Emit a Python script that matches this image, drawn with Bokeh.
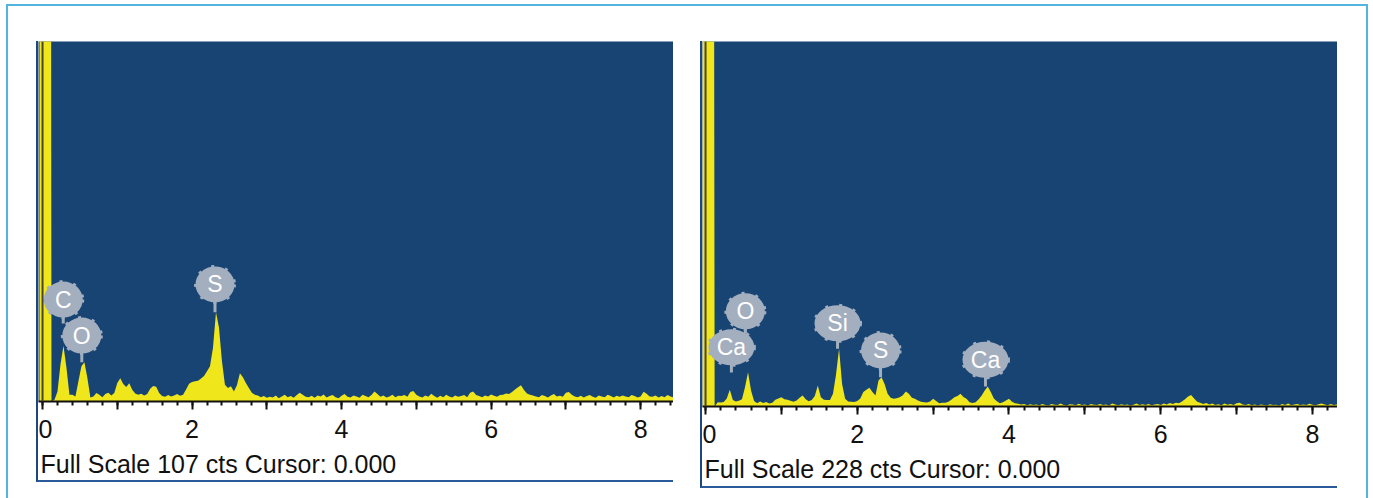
from bokeh.plotting import figure
from bokeh.layouts import row, column
from bokeh.models import FixedTicker, Title, Span, Range1d, ColumnDataSource
from bokeh.embed import file_html
from bokeh.resources import INLINE
from bokeh.core.properties import value
import numpy as np

# ---- spectra: counts per 0.04 keV channel, first channel at -0.04 keV ----
CHANNEL_WIDTH = 0.04
ENERGY_OFFSET = -0.04

left_full_scale = 107
left_counts = [
    900, 900, 900, 900, 0, 0.5, 3, 11, 16.6, 10,            # -0.04
    2, 2, 1.5, 6, 10.5, 11.7, 7, 1.2, 1.5, 2.5,             # 0.36
    2, 1.3, 2.2, 2.6, 1.8, 2.5, 5.5, 6.9, 5.2, 4.3,         # 0.76
    5.4, 3.5, 2.4, 2.0, 2.3, 1.8, 2.2, 3.8, 4.6, 4.4,       # 1.16
    2.5, 1.6, 1.4, 1.9, 1.5, 1.8, 2.2, 1.7, 2.0, 3.6,       # 1.56
    5.3, 5.8, 6.0, 6.2, 6.8, 7.6, 9.0, 10.5, 16.0, 26.5,    # 1.96
    22, 12, 5, 4, 4.5, 3.0, 4.8, 8.4, 7.2, 5.5,             # 2.36
    4.0, 2.6, 2.0, 1.8, 1.3, 1.6, 1.1, 1.4, 1.2, 1.8,       # 2.76
    1.0, 1.5, 2.0, 1.3, 1.6, 1.1, 1.9, 2.6, 2.0, 1.4,       # 3.16
    1.3, 1.7, 1.1, 1.8, 1.5, 2.1, 1.2, 1.6, 1.9, 1.3,       # 3.56
    1.0, 1.7, 2.2, 1.4, 1.2, 1.8, 1.5, 1.1, 2.0, 1.6,       # 3.96
    1.3, 1.9, 3.0, 2.2, 1.4, 1.8, 1.2, 1.5, 2.0, 1.3,       # 4.36
    1.7, 1.6, 1.9, 1.4, 2.8, 3.1, 2.0, 1.5, 1.2, 1.8,       # 4.76
    1.4, 2.3, 1.6, 1.1, 1.7, 1.3, 2.0, 1.5, 1.2, 1.8,       # 5.16
    1.4, 1.6, 1.9, 1.3, 2.6, 3.0, 1.9, 1.6, 1.3, 1.8,       # 5.56
    1.5, 2.1, 1.7, 1.4, 1.9, 2.0, 2.4, 2.2, 2.8, 3.6,       # 5.96
    4.2, 4.8, 3.4, 2.4, 2.0, 1.8, 1.5, 1.3, 1.9, 1.6,       # 6.36
    1.2, 1.8, 2.2, 1.5, 1.7, 1.4, 2.6, 2.8, 2.0, 1.5,       # 6.76
    1.3, 1.7, 1.2, 1.6, 1.9, 1.4, 1.1, 1.8, 1.5, 1.3,       # 7.16
    2.0, 1.6, 1.2, 1.7, 1.4, 1.8, 1.5, 1.3, 1.9, 1.6,       # 7.56
    1.2, 1.5, 2.9, 2.3, 1.5, 1.4, 1.8, 1.2, 1.6, 1.3,       # 7.96
    1.9, 1.5, 1.2, 1.4,                                     # 8.36
]

right_full_scale = 228
right_counts = [
    1500, 1500, 1500, 1500, 0, 2.7, 2.5, 2.8, 5.0, 10.4,    # -0.04
    4.0, 3.2, 3.6, 4.5, 12.0, 21.4, 10.0, 3.5, 2.0, 3.2,    # 0.36
    2.2, 2.8, 1.8, 2.4, 4.2, 5.0, 5.8, 4.6, 4.2, 3.6,       # 0.76
    3.0, 3.8, 5.5, 6.9, 4.6, 3.3, 4.0, 6.5, 13.1, 5.8,      # 1.16
    4.2, 4.0, 4.0, 7.9, 20.0, 36.0, 14.0, 4.8, 3.2, 3.0,    # 1.56
    2.8, 3.4, 5.0, 9.0, 10.5, 11.7, 9.0, 6.9, 16.2, 18.3,   # 1.96
    14.1, 8.0, 5.4, 4.8, 5.2, 5.8, 7.0, 9.4, 7.9, 5.5,      # 2.36
    4.8, 3.7, 3.0, 2.7, 2.5, 3.2, 4.8, 3.5, 2.1, 2.4,       # 2.76
    2.4, 3.0, 4.2, 5.8, 6.6, 7.9, 6.0, 4.8, 2.7, 2.2,       # 3.16
    2.7, 4.5, 6.9, 10.0, 12.5, 9.0, 5.0, 3.3, 2.1, 2.6,     # 3.56
    3.8, 4.8, 2.9, 2.1, 1.7, 1.2, 1.5, 0.8, 1.4, 1.0,       # 3.96
    1.2, 0.8, 1.6, 1.0, 0.7, 1.5, 1.1, 0.9, 1.8, 1.0,       # 4.36
    0.7, 1.4, 1.2, 0.8, 1.7, 1.0, 1.3, 0.6, 1.5, 1.1,       # 4.76
    0.9, 1.6, 1.0, 1.3, 0.7, 1.8, 1.2, 0.8, 1.4, 1.0,       # 5.16
    1.3, 0.7, 1.1, 1.9, 0.9, 1.4, 1.0, 1.6, 0.8, 1.2,       # 5.56
    1.5, 1.0, 1.8, 1.3, 2.2, 1.6, 2.4, 2.0, 3.2, 4.6,       # 5.96
    6.2, 7.2, 5.0, 3.0, 2.4, 1.6, 2.2, 1.2, 1.8, 1.0,       # 6.36
    1.4, 0.8, 1.9, 1.1, 1.5, 1.0, 2.0, 2.4, 1.3, 1.0,       # 6.76
    1.6, 0.8, 1.2, 0.7, 1.3, 1.0, 0.6, 1.4, 0.9, 1.1,       # 7.16
    0.7, 1.5, 1.0, 1.8, 0.8, 1.2, 1.6, 0.9, 1.3, 1.0,       # 7.56
    1.7, 1.1, 0.8, 1.4, 1.9, 1.2, 0.8, 1.5, 1.0, 1.3,       # 7.96
    0.9, 1.4, 1.0, 1.2,                                     # 8.36
]

# ---- element tags: line energy (keV), tag height and stem foot (counts) ----
left_tag_element = ["C", "O", "S"]
left_tag_energy = [0.277, 0.525, 2.307]
left_tag_height = [30.3, 19.6, 34.8]
left_tag_foot = [23.2, 11.7, 26.5]

right_tag_element = ["O", "Ca", "Si", "S", "Ca"]
right_tag_energy = [0.525, 0.341, 1.740, 2.307, 3.690]
right_tag_height = [59.5, 37.0, 52.0, 35.0, 29.2]
right_tag_foot = [45.6, 21.2, 36.0, 18.3, 12.5]

major_ticks = [0, 1, 2, 3, 4, 5, 6, 7, 8]
minor_ticks = [round(0.2 * i, 1) for i in range(43)]
cursor_energy = 0.0

BLUE = "#174472"
YELLOW = "#f0e61c"
TAG = "#a3aebf"
FONT = "Liberation Sans"


def spectrum_panel(counts, full_scale, tags, x_start, x_end, frame_height, footer):
    p = figure(width=635, height=frame_height + footer,
               x_range=Range1d(x_start, x_end), y_range=Range1d(0, full_scale),
               output_backend="svg", toolbar_location=None, y_axis_location=None,
               min_border_left=0, min_border_right=0, min_border_top=0,
               min_border_bottom=footer,
               background_fill_color=BLUE, border_fill_color="white",
               outline_line_color=None)
    p.grid.visible = False

    energy = ENERGY_OFFSET + CHANNEL_WIDTH * np.arange(len(counts))
    p.varea(x=energy, y1=np.zeros(len(counts)), y2=np.array(counts, dtype=float),
            fill_color=YELLOW)
    p.add_layout(Span(location=cursor_energy, dimension="height",
                      line_color="#4a4530", line_width=2))

    element, e_line, height_c, foot = tags
    src = ColumnDataSource(dict(
        x=e_line, top=height_c, foot=foot, text=element,
        w=[32 + 7 * len(t) for t in element]))
    p.segment(x0="x", y0="top", x1="x", y1="foot", source=src,
              line_color=TAG, line_width=3)
    p.ellipse(x="x", y="top", width="w", height=36, width_units="screen",
              height_units="screen", source=src, fill_color=TAG,
              line_color=TAG, line_width=3, line_dash="3 11")
    p.text(x="x", y="top", text="text", source=src, text_align="center",
           text_baseline="middle", text_color="white",
           text_font=value(FONT), text_font_size="23px")

    ax = p.xaxis[0]
    ax.ticker = FixedTicker(ticks=major_ticks, minor_ticks=minor_ticks)
    ax.major_label_overrides = {t: "" for t in major_ticks if t % 2}
    ax.axis_line_width = 2
    ax.axis_line_color = "#111111"
    ax.major_tick_in = 0
    ax.major_tick_out = 8
    ax.minor_tick_in = 0
    ax.minor_tick_out = 4
    ax.major_tick_line_width = 2
    ax.minor_tick_line_width = 2
    ax.major_tick_line_color = "#111111"
    ax.minor_tick_line_color = "#111111"
    ax.major_label_standoff = 10
    ax.major_label_text_font = FONT
    ax.major_label_text_font_size = "25px"
    ax.major_label_text_color = "#111111"

    # a thin blank row between the tick labels and the status line
    p.add_layout(Title(text=" ", standoff=0, text_font_size="4px"), "below")
    # status line under the axis: full-scale counts and cursor energy
    p.add_layout(Title(text=f"Full Scale {full_scale} cts Cursor: {cursor_energy:.3f}",
                       align="left", offset=2, standoff=0,
                       text_font=FONT, text_font_size="25px",
                       text_font_style="normal", text_color="#111111"), "below")
    return p


left = spectrum_panel(left_counts, left_full_scale,
                      (left_tag_element, left_tag_energy, left_tag_height, left_tag_foot),
                      -0.054, 8.44, 360, 79)
right = spectrum_panel(right_counts, right_full_scale,
                       (right_tag_element, right_tag_energy, right_tag_height, right_tag_foot),
                       -0.04, 8.33, 365, 80)

box_style = {"border-left": "2px solid #1e4680", "border-bottom": "2px solid #2a5a9a"}
left_box = column(left, styles=box_style, margin=(35, 0, 0, 28))
right_box = column(right, styles=box_style, margin=(35, 29, 10, 27))

page = row(left_box, right_box, margin=(4, 0, 0, 6),
           styles={"border-top": "2px solid #52b5de",
                   "border-left": "2px solid #52b5de",
                   "border-right": "2px solid #52b5de"})

open("out.html", "w").write(file_html(page, INLINE))
